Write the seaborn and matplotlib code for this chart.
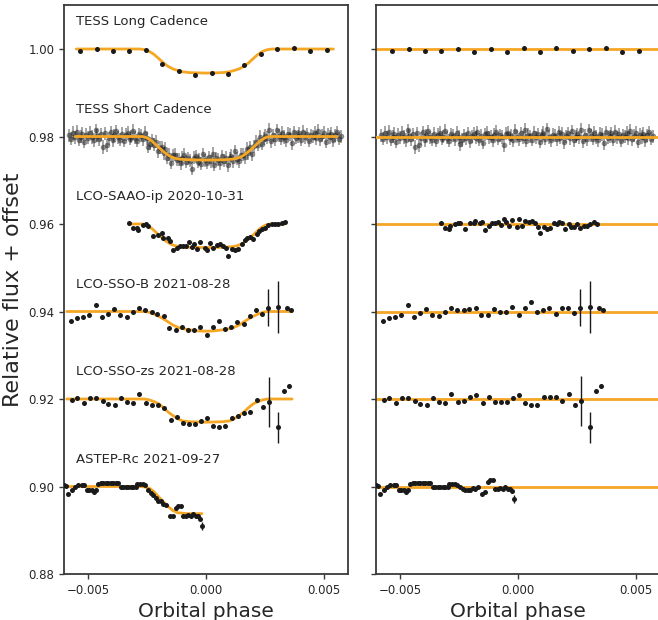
import numpy as np
import seaborn as sns
import matplotlib
matplotlib.use("Agg")
import matplotlib.pyplot as plt

# --- offsets and labels, top to bottom ---
offsets = [1.00, 0.98, 0.96, 0.94, 0.92, 0.90]
labels = ["TESS Long Cadence", "TESS Short Cadence", "LCO-SAAO-ip 2020-10-31",
          "LCO-SSO-B 2021-08-28", "LCO-SSO-zs 2021-08-28", "ASTEP-Rc 2021-09-27"]

# --- TESS long cadence ---
lc_phase = [-0.00534, -0.00464, -0.00395, -0.00325, -0.00255, -0.00185, -0.00116, -0.00046,
            0.00024, 0.00093, 0.00163, 0.00233, 0.00302, 0.00372, 0.00442, 0.00512]
lc_flux = [0.99954, 0.99993, 0.99954, 0.99954, 0.99977, 0.99658, 0.99498, 0.99400,
           0.99460, 0.99430, 0.99628, 0.99886, 0.99993, 1.00016, 0.99954, 0.99970]
lc_err = 0.0002
lc_resid_1e4 = [-4.6, -0.8, -4.6, -4.6, -0.8, -6.1, -0.8, -6.1, 1.5, -6.1, 1.5, -3.8, -0.8, 3.0, -6.1, -4.6]
lc_model_phase = [-0.0055, -0.0028, -0.0026, -0.0024, -0.0022, -0.0020, -0.0018, -0.0016, -0.0014,
                  -0.0012, -0.0010, -0.0007, 0.0, 0.0007, 0.0010, 0.0012, 0.0014, 0.0016, 0.0018,
                  0.0020, 0.0022, 0.0024, 0.0026, 0.0028, 0.0054]
lc_model_flux = [1.0, 1.0, 0.99985, 0.99945, 0.99875, 0.9978, 0.9968, 0.9960, 0.99545,
                 0.9951, 0.9948, 0.9946, 0.9945, 0.9946, 0.9948, 0.9951, 0.99545, 0.9960, 0.9968,
                 0.9978, 0.99875, 0.99945, 0.99985, 1.0, 1.0]

# --- TESS short cadence (phase in 1e-5, flux absolute, residuals in 1e-4) ---
sc_phase_1e5 = [-580, -572, -564, -556, -548, -540, -532, -524, -516, -508,
                -500, -492, -484, -476, -468, -460, -452, -444, -436, -428,
                -420, -412, -404, -396, -388, -380, -372, -364, -356, -348,
                -340, -332, -324, -316, -308, -300, -292, -284, -276, -268,
                -260, -252, -244, -236, -228, -220, -212, -204, -196, -188,
                -180, -172, -164, -156, -148, -140, -132, -124, -116, -108,
                -100, -92, -84, -76, -68, -60, -52, -44, -36, -28,
                -20, -12, -4, 4, 12, 20, 28, 36, 44, 52,
                60, 68, 76, 84, 92, 100, 108, 116, 124, 132,
                140, 148, 156, 164, 172, 180, 188, 196, 204, 212,
                220, 228, 236, 244, 252, 260, 268, 276, 284, 292,
                300, 308, 316, 324, 332, 340, 348, 356, 364, 372,
                380, 388, 396, 404, 412, 420, 428, 436, 444, 452,
                460, 468, 476, 484, 492, 500, 508, 516, 524, 532,
                540, 548, 556, 564, 572]
sc_flux = [0.9803, 0.9795, 0.9808, 0.9798, 0.9811, 0.9793, 0.9800, 0.9806, 0.9788, 0.9804,
           0.9797, 0.9809, 0.9799, 0.9792, 0.9814, 0.9802, 0.9794, 0.9805, 0.9776, 0.9807,
           0.9780, 0.9796, 0.9810, 0.9791, 0.9803, 0.9812, 0.9798, 0.9793, 0.9806, 0.9790,
           0.9804, 0.9808, 0.9795, 0.9800, 0.9813, 0.9797, 0.9790, 0.9805, 0.9802, 0.9794,
           0.9808, 0.9796, 0.9777, 0.9784, 0.9791, 0.9781, 0.9788, 0.9766, 0.9774, 0.9775,
           0.9762, 0.9772, 0.9752, 0.9758, 0.9740, 0.9757, 0.9758, 0.9747, 0.9748, 0.9739,
           0.9751, 0.9758, 0.9742, 0.9750, 0.9745, 0.9726, 0.9752, 0.9755, 0.9742, 0.9748,
           0.9738, 0.9759, 0.9746, 0.9740, 0.9753, 0.9743, 0.9761, 0.9736, 0.9750, 0.9747,
           0.9739, 0.9755, 0.9745, 0.9752, 0.9735, 0.9750, 0.9756, 0.9743, 0.9766, 0.9749,
           0.9743, 0.9758, 0.9758, 0.9753, 0.9772, 0.9762, 0.9775, 0.9760, 0.9778, 0.9788,
           0.9781, 0.9800, 0.9784, 0.9795, 0.9802, 0.9797, 0.9816, 0.9789, 0.9803, 0.9794,
           0.9814, 0.9802, 0.9795, 0.9808, 0.9799, 0.9791, 0.9806, 0.9804, 0.9785, 0.9810,
           0.9797, 0.9801, 0.9807, 0.9793, 0.9811, 0.9798, 0.9805, 0.9790, 0.9803, 0.9800,
           0.9808, 0.9796, 0.9813, 0.9794, 0.9802, 0.9809, 0.9788, 0.9804, 0.9799, 0.9806,
           0.9792, 0.9803, 0.9810, 0.9795, 0.9801]
sc_err = 0.0015
sc_resid_1e4 = [3, -5, 8, -2, 11, -7, 0, 6, -12, 4,
                -3, 9, -1, -8, 14, 2, -6, 5, -24, 7,
                -20, -4, 10, -9, 3, 12, -2, -7, 6, -10,
                4, 8, -5, 0, 13, -3, -10, 5, 2, -6,
                9, -1, -18, -8, 3, -4, 7, -11, 1, 6,
                -3, 10, -7, 2, -14, 5, 8, -2, 0, -9,
                4, 11, -5, 3, -1, -20, 6, 9, -4, 2,
                -8, 13, 0, -6, 7, -3, 15, -10, 4, 1,
                -7, 9, -2, 5, -12, 3, 8, -5, 17, -1,
                -9, 4, 2, -6, 10, -3, 6, -13, 1, 7,
                -4, 12, -8, 0, 5, -2, 16, -11, 3, -6,
                14, 2, -5, 8, -1, -9, 6, 4, -15, 10,
                -3, 1, 7, -7, 11, -2, 5, -10, 3, 0,
                8, -4, 13, -6, 2, 9, -12, 4, -1, 6,
                -8, 3, 10, -5, 1]
sc_model_phase = [-0.00555, -0.0027, -0.0025, -0.0023, -0.0021, -0.0019, -0.0017, -0.0015, -0.0013,
                  -0.0011, -0.0008, 0.0, 0.0008, 0.0011, 0.0013, 0.0015, 0.0017, 0.0019, 0.0021,
                  0.0023, 0.0025, 0.0027, 0.00555]
sc_model_flux = [0.98, 0.98, 0.9797, 0.9790, 0.9780, 0.9770, 0.9761, 0.9754, 0.9750,
                 0.9748, 0.9747, 0.9746, 0.9747, 0.9748, 0.9750, 0.9754, 0.9761, 0.9770, 0.9780,
                 0.9790, 0.9797, 0.98, 0.98]

# --- LCO-SAAO-ip ---
saao_phase = [-0.00325, -0.00308, -0.00294, -0.00287, -0.00266, -0.00254, -0.00244, -0.00223, -0.00202, -0.00188,
              -0.00181, -0.00160, -0.00153, -0.00138, -0.00124, -0.00110, -0.00096, -0.00085, -0.00071, -0.00061,
              -0.00051, -0.00037, -0.00025, -0.00004, 0.00003, 0.00017, 0.00031, 0.00045, 0.00059, 0.00073,
              0.00085, 0.00095, 0.00109, 0.00123, 0.00137, 0.00151, 0.00165, 0.00175, 0.00186, 0.00200,
              0.00215, 0.00226, 0.00236, 0.00250, 0.00264, 0.00278, 0.00292, 0.00306, 0.00321, 0.00335]
saao_flux = [0.96015, 0.95916, 0.95901, 0.95863, 0.95977, 0.95992, 0.95962, 0.95733, 0.95749, 0.95787,
             0.95672, 0.95672, 0.95611, 0.95406, 0.95459, 0.95505, 0.95505, 0.95505, 0.95596, 0.95482,
             0.95535, 0.95429, 0.95581, 0.95444, 0.95406, 0.95558, 0.95444, 0.95520, 0.95535, 0.95505,
             0.95459, 0.95276, 0.95429, 0.95406, 0.95429, 0.95535, 0.95634, 0.95672, 0.95710, 0.95657,
             0.95764, 0.95840, 0.95886, 0.95916, 0.95977, 0.96000, 0.96000, 0.95992, 0.96015, 0.96053]
saao_err = 0.0002
saao_resid_1e4 = [1.5, -8.4, -12.2, -4.6, 0, 1.5, 1.5, -10.7, 3.0, 2,
                  7.6, 3.0, 5.3, -13.7, -3.8, 1.5, 3.0, 5.3, -3, 11.4,
                  5.3, -4.6, 9.1, -6.1, 11.4, -3.8, 7.6, 5, 7.6, 3.0,
                  -6.1, -19.8, -6.1, -12.2, -8.4, 1.5, -1, 4.6, 1.5, -12.2,
                  0, -7.6, -6.1, 0, -8.4, -4.6, -4.6, 0, 3.8, 1]
saao_model_phase = [-0.00325, -0.0027, -0.0025, -0.0023, -0.0021, -0.0019, -0.0017, -0.0015, -0.0013,
                    -0.0011, -0.0008, 0.0, 0.0008, 0.0011, 0.0013, 0.0015, 0.0017, 0.0019, 0.0021,
                    0.0023, 0.0025, 0.0027, 0.00335]
saao_model_flux = [0.96, 0.96, 0.9597, 0.9590, 0.9580, 0.9570, 0.9561, 0.9554, 0.9550,
                   0.9548, 0.9547, 0.9546, 0.9547, 0.9548, 0.9550, 0.9554, 0.9561, 0.9570, 0.9580,
                   0.9590, 0.9597, 0.96, 0.96]

# --- LCO-SSO-B ---
ssob_phase = [-0.00573, -0.00548, -0.00523, -0.00494, -0.00466, -0.00442, -0.00414, -0.00390, -0.00364, -0.00336,
              -0.00311, -0.00284, -0.00258, -0.00230, -0.00206, -0.00178, -0.00155, -0.00127, -0.00102, -0.00076,
              -0.00051, -0.00025, 0.00003, 0.00028, 0.00056, 0.00082, 0.00107, 0.00133, 0.00161, 0.00186,
              0.00212, 0.00237, 0.00264, 0.00306, 0.00345, 0.00359]
ssob_flux = [0.93779, 0.93855, 0.93878, 0.93916, 0.94145, 0.93870, 0.93954, 0.94061, 0.93916, 0.93878,
             0.93985, 0.94084, 0.94023, 0.93985, 0.93947, 0.93893, 0.93627, 0.93566, 0.93657, 0.93566,
             0.93566, 0.93657, 0.93459, 0.93642, 0.93794, 0.93604, 0.93642, 0.93756, 0.93703, 0.93893,
             0.94023, 0.93947, 0.94084, 0.94099, 0.94084, 0.94038]
ssob_err = [0.0003, 0.0003, 0.0003, 0.0003, 0.0003, 0.0003, 0.0003, 0.0003, 0.0003, 0.0003,
            0.0003, 0.0003, 0.0003, 0.0003, 0.0003, 0.0003, 0.0003, 0.0003, 0.0003, 0.0003,
            0.0003, 0.0003, 0.0003, 0.0003, 0.0004, 0.0003, 0.0003, 0.0003, 0.0003, 0.0003,
            0.0003, 0.0003, 0.0042, 0.0059, 0.0003, 0.0003]
ssob_resid_1e4 = [-22.1, -14.5, -12.2, -8.4, 15.2, -12.2, -3.0, 6.1, -6.9, -10.7,
                  -1.5, 9.1, 2.3, 3.8, 4.6, 8.4, -9.1, -9.1, 4.6, -1.5,
                  -1.5, 10.7, -8.4, 6.9, 22.1, 0, 3.0, 7.6, -4.6, 7.6,
                  8.4, -3.0, 8.4, 9.9, 6.9, 3.0]
ssob_model_phase = [-0.0059, -0.0026, -0.0024, -0.0022, -0.0020, -0.0018, -0.0016, -0.0014, -0.0012,
                    -0.0010, -0.0007, -0.0003, 0.0, 0.0003, 0.0007, 0.0010, 0.0012, 0.0014, 0.0016,
                    0.0018, 0.0020, 0.0022, 0.0024, 0.0026, 0.00363]
ssob_model_flux = [0.9400, 0.9400, 0.9398, 0.9394, 0.9389, 0.9383, 0.9376, 0.9369, 0.9364,
                   0.9361, 0.9358, 0.93555, 0.9355, 0.93555, 0.9358, 0.9361, 0.9364, 0.9369, 0.9376,
                   0.9383, 0.9389, 0.9394, 0.9398, 0.9400, 0.9400]

# --- LCO-SSO-zs ---
zs_phase = [-0.00569, -0.00545, -0.00517, -0.00492, -0.00466, -0.00438, -0.00414, -0.00386, -0.00360, -0.00333,
            -0.00308, -0.00283, -0.00254, -0.00229, -0.00202, -0.00177, -0.00150, -0.00124, -0.00099, -0.00072,
            -0.00047, -0.00021, 0.00006, 0.00031, 0.00056, 0.00082, 0.00109, 0.00134, 0.00161, 0.00188,
            0.00215, 0.00240, 0.00267, 0.00304, 0.00331, 0.00353]
zs_flux = [0.91977, 0.92030, 0.91901, 0.92030, 0.92030, 0.91954, 0.91886, 0.91863, 0.92015, 0.91939,
           0.91901, 0.92107, 0.91901, 0.91863, 0.91863, 0.91787, 0.91520, 0.91596, 0.91459, 0.91429,
           0.91429, 0.91505, 0.91558, 0.91383, 0.91368, 0.91383, 0.91573, 0.91611, 0.91672, 0.91710,
           0.91977, 0.91825, 0.91939, 0.91352, 0.92191, 0.92305]
zs_err = [0.0003, 0.0003, 0.0003, 0.0003, 0.0003, 0.0003, 0.0003, 0.0003, 0.0003, 0.0003,
          0.0003, 0.0003, 0.0003, 0.0003, 0.0003, 0.0003, 0.0003, 0.0003, 0.0003, 0.0003,
          0.0003, 0.0003, 0.0003, 0.0003, 0.0003, 0.0003, 0.0003, 0.0003, 0.0003, 0.0003,
          0.0003, 0.0003, 0.0057, 0.0036, 0.0004, 0.0004]
zs_resid_1e4 = [-2.3, 3.0, -9.9, 3.0, 3.0, -3.8, -11.4, -13.7, 1.5, -6.1,
                -9.9, 10.7, -7.6, -3.8, 3.8, 9.1, -9.9, 3.8, -6.1, -6.1,
                -6.9, 3.0, 8.4, -9.9, -14.5, -14.5, 5.3, 3.8, 3.8, -3.8,
                11.4, -13.0, -5.3, -64.8, 18.3, 29.7]
zs_model_phase = [-0.0059, -0.0026, -0.0024, -0.0022, -0.0020, -0.0018, -0.0016, -0.0014, -0.0012,
                  -0.0010, -0.0007, 0.0, 0.0007, 0.0010, 0.0012, 0.0014, 0.0016, 0.0018, 0.0020,
                  0.0022, 0.0024, 0.0026, 0.00365]
zs_model_flux = [0.9200, 0.9200, 0.9198, 0.9194, 0.9189, 0.9180, 0.9170, 0.9162, 0.9155,
                 0.9150, 0.9148, 0.9147, 0.9148, 0.9150, 0.9155, 0.9162, 0.9170, 0.9180, 0.9189,
                 0.9194, 0.9198, 0.9200, 0.9200]

# --- ASTEP-Rc ---
astep_phase = [-0.00600, -0.00593, -0.00583, -0.00569, -0.00555, -0.00541, -0.00527, -0.00517, -0.00506, -0.00494,
               -0.00484, -0.00475, -0.00466, -0.00456, -0.00446, -0.00435, -0.00424, -0.00414, -0.00404, -0.00393,
               -0.00381, -0.00371, -0.00362, -0.00350, -0.00339, -0.00329, -0.00319, -0.00308, -0.00298, -0.00291,
               -0.00280, -0.00268, -0.00257, -0.00244, -0.00234, -0.00223, -0.00212, -0.00202, -0.00192, -0.00181,
               -0.00169, -0.00153, -0.00138, -0.00127, -0.00117, -0.00107, -0.00096, -0.00085, -0.00075, -0.00065,
               -0.00054, -0.00044, -0.00034, -0.00025, -0.00016]
astep_flux = [0.90040, 0.90008, 0.89832, 0.89931, 0.89985, 0.90030, 0.90030, 0.90030, 0.89931, 0.89909,
              0.89931, 0.89878, 0.89931, 0.90061, 0.90069, 0.90069, 0.90069, 0.90069, 0.90069, 0.90069,
              0.90069, 0.90069, 0.89992, 0.89992, 0.89992, 0.89992, 0.89992, 0.89992, 0.89992, 0.90061,
              0.90061, 0.90046, 0.90030, 0.89931, 0.89855, 0.89802, 0.89741, 0.89680, 0.89665, 0.89589,
              0.89573, 0.89322, 0.89322, 0.89512, 0.89543, 0.89543, 0.89322, 0.89322, 0.89345, 0.89322,
              0.89375, 0.89322, 0.89322, 0.89268, 0.89093]
astep_err = [0.0002, 0.0002, 0.0002, 0.0002, 0.0002, 0.0002, 0.0002, 0.0002, 0.0002, 0.0002,
             0.0002, 0.0002, 0.0002, 0.0002, 0.0002, 0.0002, 0.0002, 0.0002, 0.0002, 0.0002,
             0.0002, 0.0002, 0.0002, 0.0002, 0.0002, 0.0002, 0.0002, 0.0002, 0.0002, 0.0002,
             0.0002, 0.0002, 0.0002, 0.0002, 0.0002, 0.0002, 0.0002, 0.0002, 0.0002, 0.0002,
             0.0002, 0.0002, 0.0002, 0.0002, 0.0002, 0.0002, 0.0002, 0.0002, 0.0002, 0.0002,
             0.0002, 0.0002, 0.0002, 0.0003, 0.0009]
astep_resid_1e4 = [4, 1, -17, -7, -2, 3, 3, 3, -7, -9,
                   -7, -12, -7, 6, 7, 7, 7, 7, 7, 7,
                   7, 7, -1, -1, -1, -1, -1, -1, -1, 6,
                   6, 5, 4, -2, -6, -7, -7, -8, -4, -6,
                   -1, -18, -12, 10, 15, 15, -6, -6, -4, -6,
                   -1, -6, -6, -11, -29]
astep_model_phase = [-0.0061, -0.0028, -0.0026, -0.0024, -0.0022, -0.0020, -0.0018, -0.0016,
                     -0.0014, -0.0012, -0.0008, -0.00017]
astep_model_flux = [0.9000, 0.9000, 0.8999, 0.8996, 0.8988, 0.8976, 0.8965, 0.8954,
                    0.8945, 0.8940, 0.8938, 0.8938]

sets = [
    (lc_phase, lc_flux, lc_err, lc_resid_1e4, lc_model_phase, lc_model_flux),
    (list(np.array(sc_phase_1e5) * 1e-5), sc_flux, sc_err, sc_resid_1e4, sc_model_phase, sc_model_flux),
    (saao_phase, saao_flux, saao_err, saao_resid_1e4, saao_model_phase, saao_model_flux),
    (ssob_phase, ssob_flux, ssob_err, ssob_resid_1e4, ssob_model_phase, ssob_model_flux),
    (zs_phase, zs_flux, zs_err, zs_resid_1e4, zs_model_phase, zs_model_flux),
    (astep_phase, astep_flux, astep_err, astep_resid_1e4, astep_model_phase, astep_model_flux),
]

ORANGE = "#F5A623"
sns.set_theme(style="ticks")
plt.rcParams["font.family"] = ["DejaVu Sans"]

fig = plt.figure(figsize=(6.58, 6.2), dpi=100)
ax_l = fig.add_axes([64 / 658, 46 / 620, 284 / 658, 569 / 620])
ax_r = fig.add_axes([376 / 658, 46 / 620, 284 / 658, 569 / 620])

for i, (ph, fl, err, res, mph, mfl) in enumerate(sets):
    off = offsets[i]
    res = np.array(res) * 1e-4
    short = i == 1
    pt = dict(fmt="o", color="k", ms=4.0 if short else 3.6, elinewidth=1.1 if short else 1.0,
              capsize=0, alpha=0.5 if short else 1.0, zorder=2 if short else 3, mew=0)
    ax_l.errorbar(ph, fl, yerr=err, **pt)
    sns.lineplot(x=mph, y=mfl, ax=ax_l, color=ORANGE, lw=2.0, estimator=None,
                 zorder=4 if short else 2.5)
    ax_r.axhline(off, color=ORANGE, lw=2.0, zorder=4 if short else 2.5)
    ax_r.errorbar(ph, off + res, yerr=err, **pt)
    ax_l.text(-0.0055, off + 0.0062, labels[i], fontsize=9.5, color=".15", va="center", ha="left")

for ax in (ax_l, ax_r):
    ax.set_xlim(-0.00602, 0.00602)
    ax.set_ylim(0.88, 1.01006)
    ax.set_xticks([-0.005, 0.0, 0.005])
    ax.set_yticks([0.88, 0.90, 0.92, 0.94, 0.96, 0.98, 1.00])
    ax.tick_params(labelsize=8.5, length=3.5, width=1, color="#3a3a3a")
    ax.set_xlabel("Orbital phase", fontsize=14.5, color=".15")
    for s in ax.spines.values():
        s.set_color("#3a3a3a")
        s.set_linewidth(1.3)
ax_l.set_ylabel("Relative flux + offset", fontsize=16, color=".15")
ax_r.tick_params(labelleft=False)
ax_r.set_ylabel("")

fig.savefig("out.png", dpi=100)
